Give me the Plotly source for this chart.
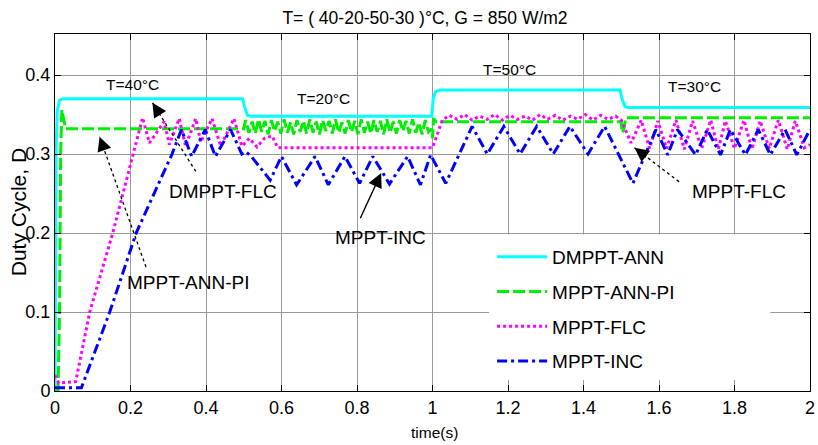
import plotly.graph_objects as go

# ---------------- data ----------------
ann_t = [0, 0.003, 0.006, 0.012, 0.02, 0.497, 0.502, 0.51, 0.52,
         0.998, 1.002, 1.008, 1.02, 1.497, 1.502, 1.51, 1.52, 2.0]
ann_v = [0, 0.31, 0.355, 0.368, 0.370, 0.370, 0.36, 0.349, 0.348,
         0.348, 0.37, 0.379, 0.381, 0.381, 0.37, 0.36, 0.359, 0.359]

pi_head_t = [0, 0.008, 0.012, 0.015, 0.018, 0.022, 0.028, 0.5]
pi_head_v = [0, 0, 0.1, 0.3, 0.356, 0.345, 0.332, 0.332]
pi_band_start = 0.505
pi_band_step = 0.0085
pi_band_v = [0.343, 0.327, 0.341, 0.326, 0.344, 0.328, 0.342, 0.325, 0.343, 0.329,
             0.341, 0.326, 0.344, 0.327, 0.340, 0.325, 0.343, 0.328, 0.342, 0.326,
             0.344, 0.327, 0.341, 0.325, 0.343, 0.329, 0.342, 0.326, 0.344, 0.327,
             0.340, 0.326, 0.343, 0.328, 0.342, 0.325, 0.344, 0.327, 0.341, 0.326,
             0.343, 0.328, 0.342, 0.325, 0.344, 0.327, 0.341, 0.326, 0.343, 0.329,
             0.342, 0.326, 0.344, 0.327, 0.340, 0.325, 0.343, 0.328]
pi_tail_t = [0.998, 1.0, 1.003, 1.01, 1.5, 1.502, 1.506, 1.512, 2.0]
pi_tail_v = [0.332, 0.32, 0.345, 0.341, 0.341, 0.327, 0.33, 0.346, 0.346]

flc_t = [0, 0.01, 0.055, 0.092, 0.153, 0.206, 0.232, 0.25, 0.289, 0.303,
         0.329, 0.346, 0.373, 0.386, 0.416, 0.439, 0.474, 0.495, 0.515, 0.535,
         0.555, 0.575, 0.59, 1.0, 1.012, 1.026, 1.045, 1.065, 1.085, 1.105,
         1.125, 1.145, 1.165, 1.185, 1.205, 1.225, 1.245, 1.265, 1.285, 1.305,
         1.325, 1.345, 1.365, 1.385, 1.405, 1.425, 1.445, 1.465, 1.485, 1.5,
         1.526, 1.553, 1.575, 1.597, 1.62, 1.645, 1.667, 1.689, 1.713, 1.737,
         1.757, 1.776, 1.80, 1.825, 1.846, 1.868, 1.892, 1.916, 1.94, 1.961,
         1.985, 2.0]
flc_v = [0.02, 0.01, 0.012, 0.1, 0.2, 0.3, 0.346, 0.314, 0.341, 0.312,
         0.345, 0.31, 0.345, 0.315, 0.345, 0.31, 0.345, 0.31, 0.32, 0.309,
         0.32, 0.323, 0.308, 0.308, 0.325, 0.343, 0.349, 0.344, 0.350, 0.343,
         0.348, 0.344, 0.350, 0.343, 0.349, 0.344, 0.348, 0.343, 0.350, 0.344,
         0.349, 0.343, 0.348, 0.344, 0.350, 0.343, 0.349, 0.344, 0.348, 0.343,
         0.314, 0.343, 0.307, 0.342, 0.307, 0.343, 0.306, 0.342, 0.307, 0.343,
         0.306, 0.342, 0.307, 0.343, 0.306, 0.342, 0.307, 0.343, 0.306, 0.342,
         0.308, 0.312]

inc_t = [0, 0.07, 0.145, 0.215, 0.31, 0.335, 0.362, 0.398, 0.425, 0.465,
         0.495, 0.505, 0.52, 0.57, 0.60, 0.64, 0.689, 0.724, 0.768, 0.807,
         0.842, 0.886, 0.934, 0.968, 0.995, 1.035, 1.105, 1.145, 1.189, 1.232,
         1.276, 1.32, 1.364, 1.412, 1.456, 1.531, 1.592, 1.623, 1.649, 1.697,
         1.728, 1.763, 1.789, 1.829, 1.863, 1.895, 1.934, 1.965, 2.0]
inc_v = [0.004, 0.004, 0.1, 0.2, 0.3, 0.331, 0.297, 0.331, 0.297, 0.331,
         0.30, 0.303, 0.297, 0.267, 0.297, 0.261, 0.297, 0.261, 0.297, 0.263,
         0.297, 0.262, 0.297, 0.261, 0.299, 0.263, 0.335, 0.30, 0.335, 0.30,
         0.335, 0.30, 0.335, 0.30, 0.335, 0.263, 0.331, 0.299, 0.331, 0.299,
         0.331, 0.299, 0.331, 0.299, 0.331, 0.299, 0.331, 0.299, 0.331]

x_ticks = [0, 0.2, 0.4, 0.6, 0.8, 1.0, 1.2, 1.4, 1.6, 1.8, 2.0]
x_tick_labels = ["0", "0.2", "0.4", "0.6", "0.8", "1", "1.2", "1.4", "1.6", "1.8", "2"]
y_ticks = [0, 0.1, 0.2, 0.3, 0.4]
y_tick_labels = ["0", "0.1", "0.2", "0.3", "0.4"]

series_names = ["DMPPT-ANN", "MPPT-ANN-PI", "MPPT-FLC", "MPPT-INC"]
temp_labels = ["T=40°C", "T=20°C", "T=50°C", "T=30°C"]
temp_label_pos = [(0.205, 0.388), (0.711, 0.370), (1.203, 0.407), (1.695, 0.385)]

# ---------------- build ----------------
pi_band_t = [round(pi_band_start + pi_band_step * i, 4) for i in range(len(pi_band_v))]
pi_t = pi_head_t + pi_band_t + pi_tail_t
pi_v = pi_head_v + pi_band_v + pi_tail_v

FONT = "Liberation Sans, Arial, sans-serif"

fig = go.Figure()
fig.add_trace(go.Scatter(x=ann_t, y=ann_v, mode="lines", name=series_names[0],
                         line=dict(color="#00FFFF", width=3), legendgroup="a"))
fig.add_trace(go.Scatter(x=pi_t, y=pi_v, mode="lines", name=series_names[1],
                         line=dict(color="#00EE00", width=3, dash="12px,4px"), legendgroup="b"))
fig.add_trace(go.Scatter(x=flc_t, y=flc_v, mode="lines", name=series_names[2],
                         line=dict(color="#FF00FF", width=3, dash="3px,3px"), legendgroup="c"))
fig.add_trace(go.Scatter(x=inc_t, y=inc_v, mode="lines", name=series_names[3],
                         line=dict(color="#0000FF", width=3, dash="10px,4px,3px,4px"), legendgroup="d"))

annotations = []
for txt, (tx, ty) in zip(temp_labels, temp_label_pos):
    annotations.append(dict(x=tx, y=ty, xref="x", yref="y", text=txt, showarrow=False,
                            font=dict(family=FONT, size=15.5, color="black")))

method_labels = [("DMPPT-FLC", 0.445, 0.252), ("MPPT-ANN-PI", 0.353, 0.138),
                 ("MPPT-INC", 0.861, 0.194), ("MPPT-FLC", 1.813, 0.2525)]
for txt, tx, ty in method_labels:
    annotations.append(dict(x=tx, y=ty, xref="x", yref="y", text=txt, showarrow=False,
                            font=dict(family=FONT, size=19, color="black")))

# arrows: (head_t, head_y, tail_t, tail_y, dotted)
arrows = [(0.258, 0.365, 0.373, 0.278, True),
          (0.118, 0.322, 0.241, 0.157, True),
          (0.864, 0.276, 0.807, 0.217, False),
          (1.535, 0.308, 1.653, 0.265, True)]
shapes = []
# white legend panel (hides grid behind the legend, as in the reference)
shapes.append(dict(type="rect", xref="x", yref="y",
                   x0=1.15, x1=1.895, y0=0.014, y1=0.198,
                   fillcolor="white", line=dict(width=0), layer="between"))
for hx, hy, tx, ty, dotted in arrows:
    if dotted:
        shapes.append(dict(type="line", xref="x", yref="y", x0=tx, y0=ty, x1=hx, y1=hy,
                           line=dict(color="black", width=1.3, dash="dot")))
        dxp = (tx - hx) * 380
        dyp = -(ty - hy) * 788
        L = (dxp ** 2 + dyp ** 2) ** 0.5
        annotations.append(dict(x=hx, y=hy, xref="x", yref="y", text="", showarrow=True,
                                ax=dxp / L * 14, ay=dyp / L * 14, arrowhead=2,
                                arrowsize=2.2, arrowwidth=1.3, arrowcolor="black", standoff=0))
    else:
        annotations.append(dict(x=hx, y=hy, xref="x", yref="y", text="", showarrow=True,
                                ax=tx, ay=ty, axref="x", ayref="y", arrowhead=2,
                                arrowsize=2.2, arrowwidth=1.3, arrowcolor="black", standoff=0))

# axis titles
annotations.append(dict(x=-(55 - 18.5) / 760, y=0.5, xref="paper", yref="paper",
                        xanchor="center", yanchor="middle",
                        text="Duty Cycle, D", textangle=-90, showarrow=False,
                        font=dict(family=FONT, size=21, color="black")))
annotations.append(dict(x=(437 - 55) / 760, y=-(432 - 391) / 357, xref="paper", yref="paper",
                        xanchor="center", yanchor="middle",
                        text="time(s)", showarrow=False,
                        font=dict(family=FONT, size=15.5, color="black")))

fig.update_layout(
    width=818, height=445,
    margin=dict(l=55, r=3, t=34, b=54),
    paper_bgcolor="white", plot_bgcolor="white",
    title=dict(text="T= ( 40-20-50-30 )°C, G = 850 W/m2", x=425 / 818, xref="container",
               xanchor="center", y=1 - 18 / 445, yref="container", yanchor="middle",
               font=dict(family=FONT, size=17.5, color="black")),
    legend=dict(x=(495 - 55) / 760, y=(391 - 238) / 357, xanchor="left", yanchor="top",
                bgcolor="white", borderwidth=0, tracegroupgap=7, itemwidth=50,
                font=dict(family=FONT, size=19, color="black")),
    showlegend=True,
    annotations=annotations,
    shapes=shapes,
)
fig.update_xaxes(range=[0, 2], tickvals=x_ticks, ticktext=x_tick_labels,
                 showgrid=True, gridcolor="#999999", gridwidth=1,
                 showline=True, linecolor="black", linewidth=1, mirror="ticks",
                 ticks="inside", ticklen=6, tickcolor="black", ticklabeloverflow="allow",
                 zeroline=True, zerolinecolor="black", zerolinewidth=2,
                 tickfont=dict(family=FONT, size=18, color="black"))
fig.update_yaxes(range=[0, 0.452], tickvals=y_ticks, ticktext=y_tick_labels,
                 showgrid=True, gridcolor="#999999", gridwidth=1,
                 showline=True, linecolor="black", linewidth=1, mirror="ticks",
                 ticks="inside", ticklen=6, tickcolor="black", ticklabeloverflow="allow",
                 zeroline=True, zerolinecolor="black", zerolinewidth=3,
                 tickfont=dict(family=FONT, size=18, color="black"))

fig.write_html("out.html")
